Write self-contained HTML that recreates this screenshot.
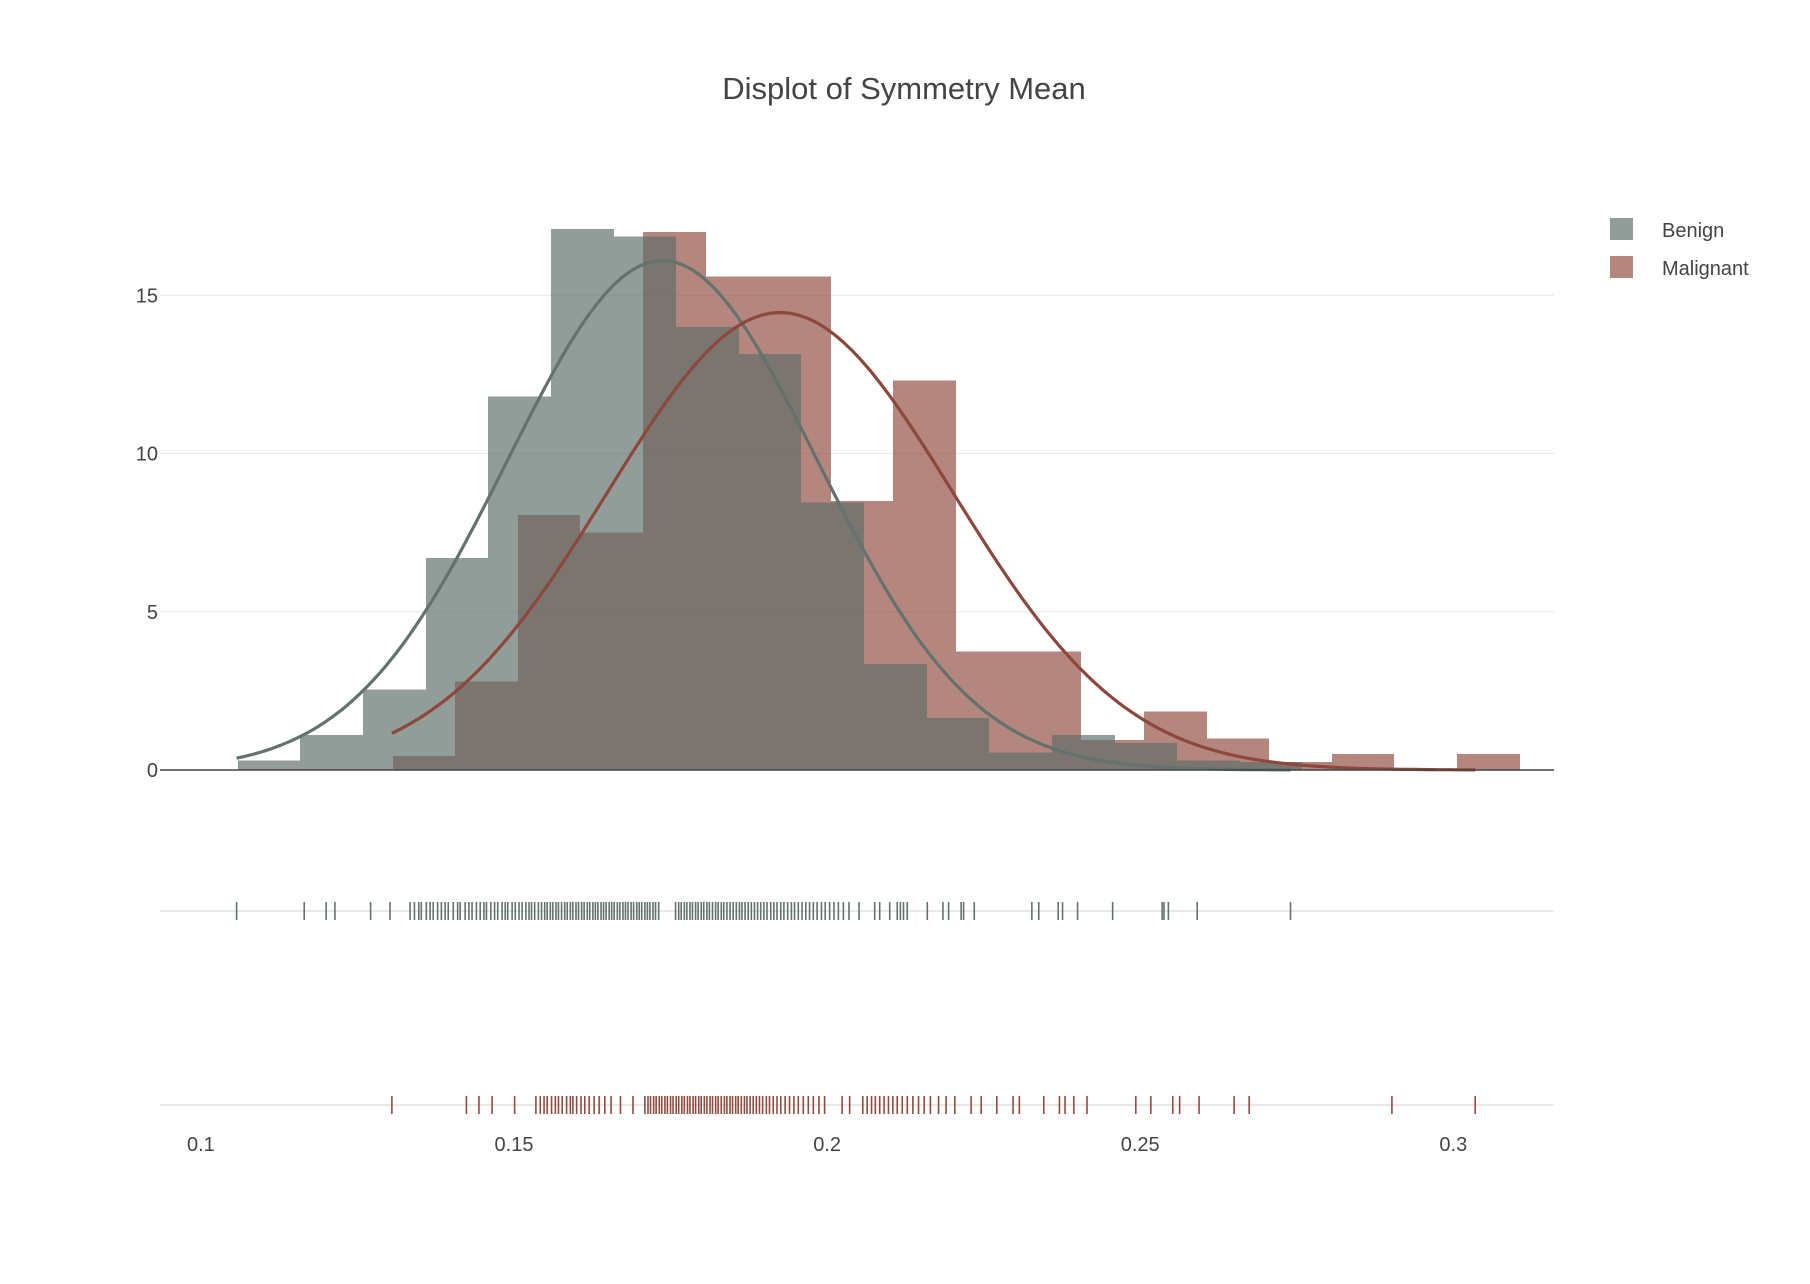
<!DOCTYPE html>
<html><head><meta charset="utf-8"><style>
body{margin:0;background:#fff;}
svg{display:block;font-family:"Liberation Sans",sans-serif;}
</style></head><body>
<svg id="chart" width="1810" height="1284" viewBox="0 0 1810 1284">
<text x="904" y="99" text-anchor="middle" font-size="31" fill="#444">Displot of Symmetry Mean</text>
<g id="grid"></g><g id="bars" shape-rendering="crispEdges"></g><g id="curves"></g><g id="rugs"></g><g id="axes"></g>
<g>
<rect x="1610" y="218" width="23" height="22" fill="rgb(93,109,103)" fill-opacity="0.67"/>
<text x="1662" y="237" font-size="20" fill="#444">Benign</text>
<rect x="1610" y="256" width="23" height="22" fill="rgb(145,75,62)" fill-opacity="0.67"/>
<text x="1662" y="275" font-size="20" fill="#444">Malignant</text>
</g>
</svg>
<script>
const benignStart = 0.1059, malignantStart = 0.1306, binWidth = 0.01;
const benignHeights = [0.3,1.1,2.55,6.7,11.8,17.1,16.85,14.0,13.15,8.45,3.35,1.65,0.55,1.1,0.85,0.3,0.25];
const malignantHeights = [0.45,2.8,8.05,7.5,17.0,15.6,15.6,8.5,12.3,3.75,3.75,0.95,1.85,1.0,0.25,0.5,0,0.5];
const benignMean = 0.1737, benignStd = 0.02478;
const malignantMean = 0.1925, malignantStd = 0.0276;
const yTicks = [0,5,10,15];
const xTicks = [0.1,0.15,0.2,0.25,0.3];
const xTickLabels = ["0.1","0.15","0.2","0.25","0.3"];
const benignRug = [0.1057,0.1165,0.1200,0.1214,0.1271,0.1302,
0.1334,0.1341,0.1348,0.1352,0.1360,0.1366,0.1371,0.1378,0.1384,0.1390,0.1395,0.1403,0.1410,0.1414,0.1422,0.1428,0.1433,0.1440,0.1446,0.1452,0.1456,0.1463,0.1469,0.1474,0.1481,0.1486,0.1490,0.1497,0.1502,0.1508,0.1513,0.1519,0.1524,0.1528,0.1533,0.1539,0.1544,0.1549,0.1553,0.1558,0.1562,0.1567,0.1571,0.1576,0.1581,0.1585,0.1590,0.1594,0.1599,0.1603,0.1608,0.1612,0.1617,0.1621,0.1626,0.1630,0.1634,0.1639,0.1643,0.1647,0.1652,0.1656,0.1660,0.1665,0.1669,0.1674,0.1678,0.1682,0.1687,0.1691,0.1696,0.1700,0.1704,0.1709,0.1713,0.1717,0.1722,0.1726,0.1731,
0.1758,0.1763,0.1767,0.1772,0.1776,0.1781,0.1785,0.1790,0.1794,0.1799,0.1803,0.1808,0.1812,0.1817,0.1822,0.1826,0.1831,0.1835,0.1840,0.1845,0.1850,0.1855,0.1860,0.1864,0.1869,0.1874,0.1879,0.1884,0.1889,0.1894,0.1899,0.1904,0.1910,0.1915,0.1920,0.1926,0.1931,0.1937,0.1943,0.1948,0.1954,0.1960,0.1966,0.1972,0.1978,0.1984,0.1991,0.1997,0.2004,0.2011,0.2018,0.2026,0.2035,
0.2051,0.2076,0.2084,0.2100,0.2112,0.2117,0.2122,0.2128,0.2160,0.2185,0.2194,0.2214,0.2218,0.2235,0.2327,0.2338,0.2369,0.2376,0.2400,0.2456,0.2535,0.2538,0.2545,0.2591,0.2740];
const malignantRug = [0.1305,0.1424,0.1444,0.1465,0.1501,
0.1535,0.1542,0.1548,0.1553,0.1560,0.1566,0.1571,0.1577,0.1584,0.1590,0.1594,0.1600,0.1607,0.1613,0.1620,0.1628,0.1636,0.1645,0.1655,0.1670,0.1690,
0.1709,0.1714,0.1718,0.1723,0.1727,0.1732,0.1736,0.1741,0.1745,0.1750,0.1754,0.1759,0.1763,0.1768,0.1772,0.1777,0.1781,0.1786,0.1790,0.1795,0.1799,0.1804,0.1808,0.1813,0.1817,0.1822,0.1826,0.1831,0.1836,0.1840,0.1845,0.1849,0.1854,0.1858,0.1863,0.1868,0.1872,0.1877,0.1882,0.1887,0.1892,0.1897,0.1903,0.1908,0.1914,0.1920,0.1926,0.1933,0.1940,0.1947,0.1954,0.1962,0.1970,0.1978,0.1987,0.1996,
0.2024,0.2036,0.2057,0.2064,0.2071,0.2077,0.2084,0.2091,0.2098,0.2105,0.2112,0.2120,0.2128,0.2137,0.2146,0.2155,0.2165,0.2178,0.2190,0.2204,
0.2230,0.2246,0.2271,0.2297,0.2307,0.2346,0.2371,0.2380,0.2394,0.2415,0.2493,0.2517,0.2552,0.2563,0.2594,0.2650,0.2674,0.2902,0.3035];

const NS = "http://www.w3.org/2000/svg";
const plotL = 160, plotR = 1554, y0px = 770, pxPerUnit = 31.65;
const benignRugY = 911, malignantRugY = 1105;
function xPx(v){ return 200.9 + (v - 0.1) * 6262; }
function yPx(v){ return y0px - v * pxPerUnit; }
function mk(tag, attrs, parent){ const e = document.createElementNS(NS, tag); for (const k in attrs) e.setAttribute(k, attrs[k]); parent.appendChild(e); return e; }
const grid = document.getElementById('grid'), bars = document.getElementById('bars'), curves = document.getElementById('curves'), rugs = document.getElementById('rugs'), axes = document.getElementById('axes');

yTicks.forEach(t => {
  if (t > 0) {
    const g = mk('line', {x1:plotL, x2:plotR, y1:yPx(t), y2:yPx(t), stroke:'#e8e8e8', 'stroke-width':1}, grid);
    
    
  }
  const lb = mk('text', {x:158, y:yPx(t)+7, 'text-anchor':'end', 'font-size':20, fill:'#444'}, axes);
  lb.textContent = String(t);
  
  
});
[benignRugY, malignantRugY].forEach(y => {
  const g = mk('line', {x1:plotL, x2:plotR, y1:y, y2:y, stroke:'#e8e8e8', 'stroke-width':2}, grid);
  
  
});

function drawBars(start, heights, fill, name){
  heights.forEach((h, i) => {
    if (h <= 0) return;
    const x1 = Math.round(xPx(start + i*binWidth)), x2 = Math.round(xPx(start + (i+1)*binWidth));
    const r = mk('rect', {x:x1, y:yPx(h), width:x2-x1, height:y0px-yPx(h), fill:fill, 'fill-opacity':0.67}, bars);
    
    
  });
}
drawBars(malignantStart, malignantHeights, 'rgb(145,75,62)', 'malignant-bar');
drawBars(benignStart, benignHeights, 'rgb(93,109,103)', 'benign-bar');

function drawCurve(mean, sd, lo, hi, color, name){
  const pts = [];
  for (let i = 0; i <= 120; i++) {
    const v = lo + (hi - lo) * i / 120;
    const d = Math.exp(-0.5 * ((v-mean)/sd)**2) / (sd * Math.sqrt(2*Math.PI));
    pts.push(xPx(v).toFixed(1) + ',' + yPx(d).toFixed(1));
  }
  const p = mk('polyline', {points:pts.join(' '), fill:'none', stroke:color, 'stroke-width':3.2, 'stroke-linejoin':'round'}, curves);
  
  
}
drawCurve(benignMean, benignStd, Math.min(...benignRug), Math.max(...benignRug), 'rgb(99,114,108)', 'benign-curve');
drawCurve(malignantMean, malignantStd, Math.min(...malignantRug), Math.max(...malignantRug), 'rgb(140,72,60)', 'malignant-curve');

const zl = mk('line', {x1:plotL, x2:plotR, y1:y0px, y2:y0px, stroke:'#444', 'stroke-width':1.5}, axes);



function drawRug(vals, y, color, name){
  vals.forEach(v => {
    const l = mk('line', {x1:xPx(v), x2:xPx(v), y1:y-9, y2:y+9, stroke:color, 'stroke-width':1.6}, rugs);
    
    
  });
}
drawRug(benignRug, benignRugY, 'rgb(99,114,108)', 'benign-rug-tick');
drawRug(malignantRug, malignantRugY, 'rgb(145,75,62)', 'malignant-rug-tick');

xTicks.forEach((t, i) => {
  const lb = mk('text', {x:xPx(t), y:1151, 'text-anchor':'middle', 'font-size':20, fill:'#444'}, axes);
  lb.textContent = xTickLabels[i];
  
  
});
</script>
</body></html>
